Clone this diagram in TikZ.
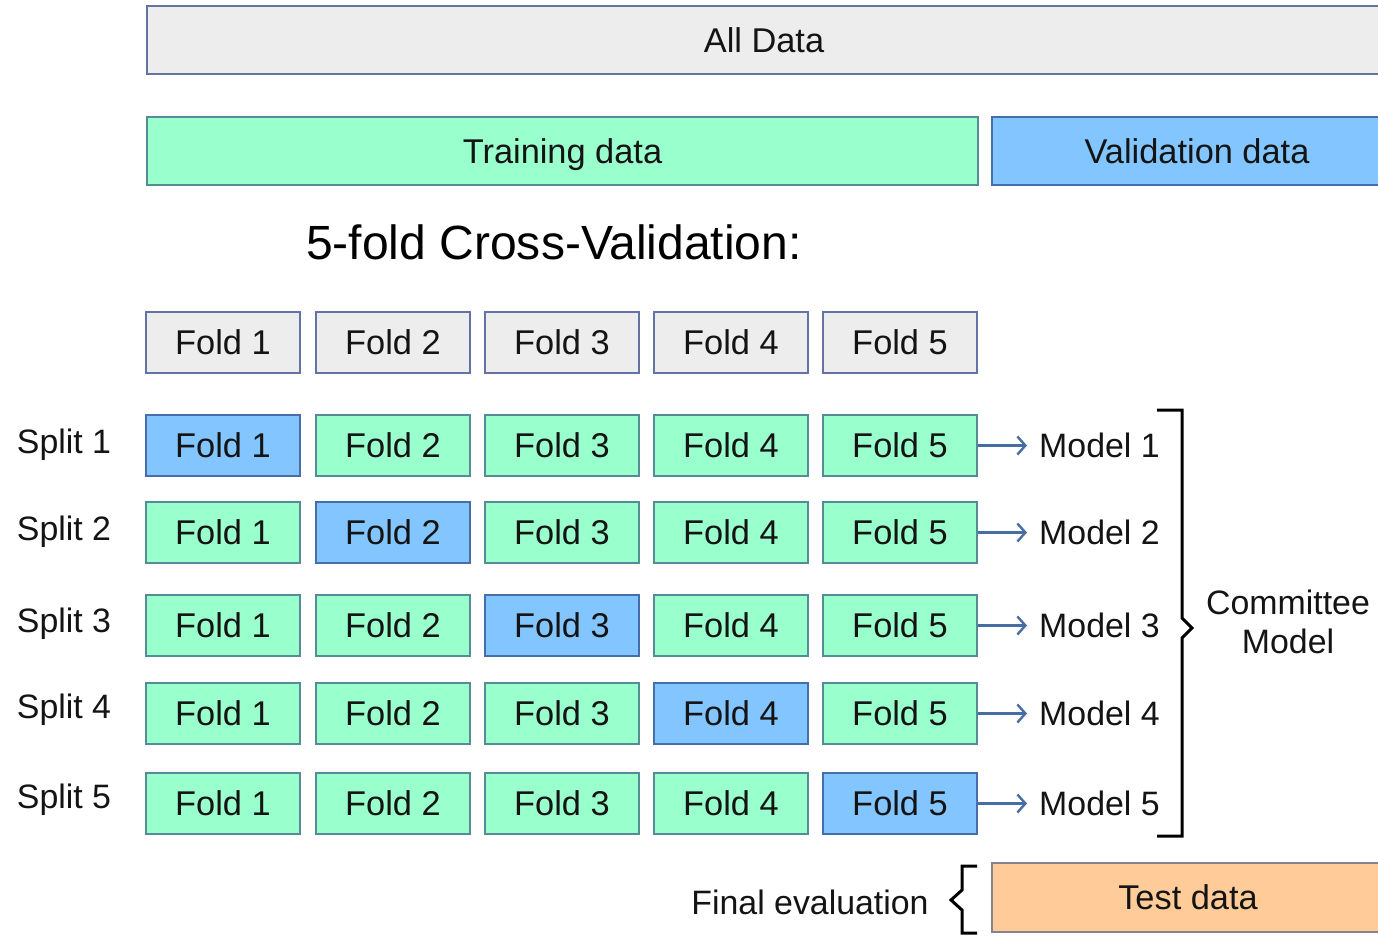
\documentclass[tikz,border=0pt]{standalone}
\usepackage{fontspec}
\setmainfont{Liberation Sans}
\usetikzlibrary{arrows.meta}
\definecolor{grayfill}{RGB}{237,237,237}
\definecolor{grayedge}{RGB}{100,115,165}
\definecolor{greenfill}{RGB}{153,255,204}
\definecolor{greenedge}{RGB}{85,140,150}
\definecolor{bluefill}{RGB}{130,197,255}
\definecolor{blueedge}{RGB}{70,110,170}
\definecolor{peachfill}{RGB}{255,204,153}
\definecolor{peachedge}{RGB}{130,130,145}
\definecolor{arrowcol}{RGB}{70,110,165}
\definecolor{txt}{RGB}{20,20,20}
\tikzset{
  box/.style={draw, line width=2bp, inner sep=0pt, text=txt,
    text height=24.5bp, text depth=0bp,
    font=\fontsize{34.5}{41}\selectfont},
  graybox/.style={box, draw=grayedge, fill=grayfill},
  greenbox/.style={box, draw=greenedge, fill=greenfill},
  bluebox/.style={box, draw=blueedge, fill=bluefill},
  peachbox/.style={box, draw=peachedge, fill=peachfill},
  foldbox/.style={minimum width=154bp, minimum height=61bp},
  lbl/.style={text=txt, inner sep=0pt, font=\fontsize{34}{41}\selectfont},
  modelarrow/.style={draw=arrowcol, line width=2.6bp, -{Straight Barb[length=8bp,width=18bp,line width=2.4bp]}},
  brk/.style={draw=black, line width=3bp},
}
\begin{document}
\begin{tikzpicture}[x=1bp,y=-1bp]
\useasboundingbox (0,0) rectangle (1378,935);
% top bars
\node[graybox, minimum width=1234bp, minimum height=68bp, anchor=north west] (all) at (146,5) {All Data};
\node[greenbox, minimum width=831bp, minimum height=68bp, anchor=north west] (train) at (146,116) {Training data};
\node[bluebox, minimum width=410bp, minimum height=68bp, anchor=north west] (valid) at (991,116) {Validation data};
% title
\node[text=black, inner sep=0pt, font=\fontsize{48.2}{58}\selectfont] (title) at (554,242) {5-fold Cross-Validation:};
% header folds
\foreach \c/\x in {1/223,2/393,3/562,4/731,5/900}{
  \node[graybox, foldbox] (h\c) at (\x,342) {Fold \c};
}
% split rows
\foreach \r/\y/\ly in {1/445.5/445,2/532.5/532,3/625.5/624,4/713.5/710,5/803.5/800}{
  \node[lbl] (s\r) at (64,\ly) {Split \r};
  \foreach \c/\x in {1/223,2/393,3/562,4/731,5/900}{
    \ifnum\c=\r
      \node[bluebox, foldbox] (f\r\c) at (\x,\y) {Fold \c};
    \else
      \node[greenbox, foldbox] (f\r\c) at (\x,\y) {Fold \c};
    \fi
  }
  \node[lbl, anchor=west] (m\r) at (1039,\y) {Model \r};
  \draw[modelarrow] (f\r5.east) -- (m\r.west -| 1027,0);
}
% committee bracket
\coordinate (bt) at (1157,410);
\coordinate (bb) at (1157,836);
\draw[brk, line join=miter] (bt) -- (1182,410) -- (1182,618) -- (1192,628) -- (1182,638) -- (1182,836) -- (bb);
\node[lbl, align=center] (comm) at (1288,622) {Committee\\[-2bp]Model};
% final evaluation
\node[peachbox, minimum width=392bp, minimum height=69bp, anchor=north west] (test) at (991,862) {Test data};
\node[lbl] (final) at (810,902) {Final evaluation};
\coordinate (ft) at (977,866);
\coordinate (fb) at (977,933);
\draw[brk, line join=miter] (ft) -- (962,866) -- (962,890) -- (951,900) -- (962,910) -- (962,933) -- (fb);
\end{tikzpicture}
\end{document}
